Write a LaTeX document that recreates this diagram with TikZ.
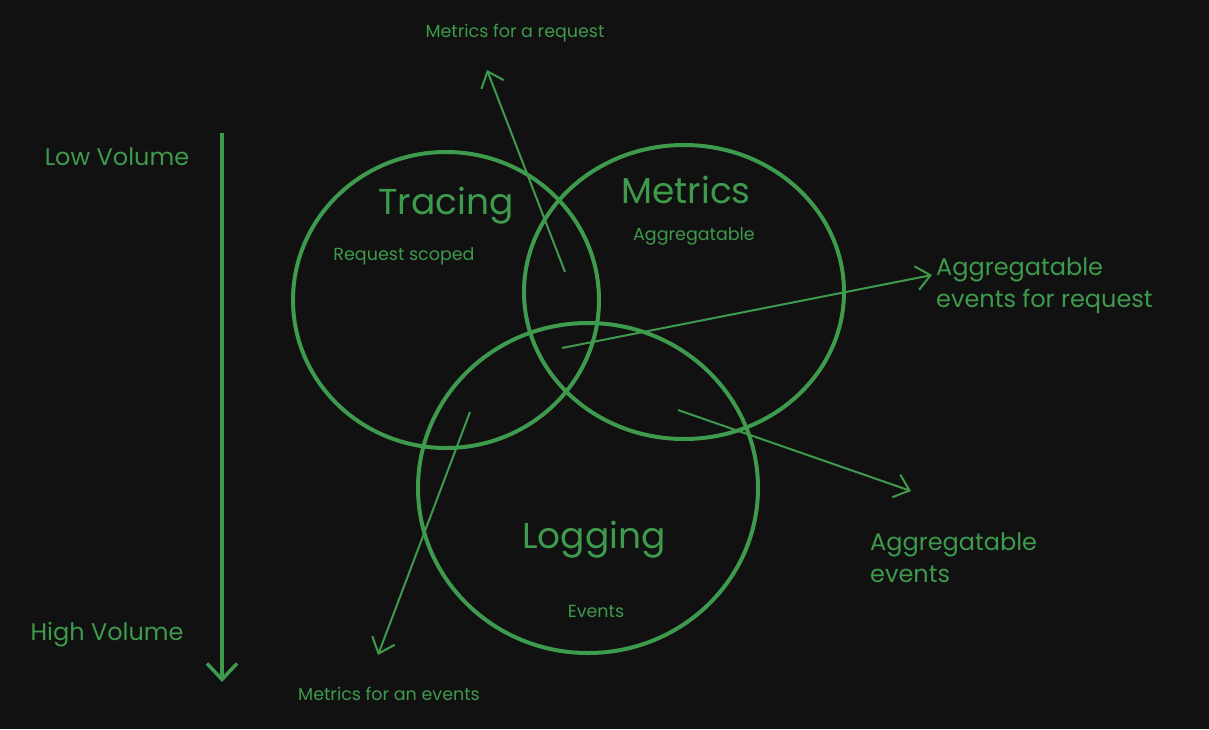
\documentclass[tikz,border=0pt]{standalone}
\usepackage{fontspec}
\setmainfont{Poppins}
\usetikzlibrary{arrows.meta}
\definecolor{gr}{HTML}{3E9A4C}
\definecolor{bg}{HTML}{111111}
\begin{document}
\begin{tikzpicture}[x=1pt,y=-1pt,
  circ/.style={draw=gr,line width=4pt},
  arr/.style={draw=gr,line width=2pt,-{Straight Barb[length=14pt,width=24pt,line width=2pt]}},
  big/.style={text=gr,font=\fontsize{36}{38}\selectfont,inner sep=0},
  sub/.style={text=gr,font=\fontsize{17.5}{20}\selectfont,inner sep=0},
  lab/.style={text=gr,font=\fontsize{24}{32}\selectfont,inner sep=0,align=left}]
\fill[bg] (0,0) rectangle (1209,729);
\useasboundingbox (0,0) rectangle (1209,729);
\draw[circ] (446,300) ellipse [x radius=153, y radius=148];
\draw[circ] (684,292) ellipse [x radius=160, y radius=147];
\draw[circ] (588,488) ellipse [x radius=170, y radius=165];
\node[big] (t) at (446,206) {Tracing};
\node[sub] (ts) at (404,256) {Request scoped};
\node[big] (m) at (686,190) {Metrics};
\node[sub] (ms) at (694,236) {Aggregatable};
\node[big] (l) at (594,540) {Logging};
\node[sub] (ls) at (596,611) {Events};
\coordinate (a1s) at (565,272); \coordinate (a1e) at (487,70);
\coordinate (a2s) at (562,348); \coordinate (a2e) at (932,275);
\coordinate (a3s) at (678,410); \coordinate (a3e) at (911,491);
\coordinate (a4s) at (470,412); \coordinate (a4e) at (378,655);
\coordinate (vs) at (222,133); \coordinate (ve) at (222,682);
\draw[arr] (a1s) -- (a1e);
\draw[arr] (a2s) -- (a2e);
\draw[arr] (a3s) -- (a3e);
\draw[arr] (a4s) -- (a4e);
\draw[draw=gr,line width=4.5pt,-{Straight Barb[length=16pt,width=30pt,line width=3.5pt]}] (vs) -- (ve);
\node[sub] (l1) at (515,33) {Metrics for a request};
\node[lab,anchor=west] (l2) at (936,286) {Aggregatable\\events for request};
\node[lab,anchor=west] (l3) at (870,558) {Aggregatable\\events};
\node[sub] (l4) at (389,694) {Metrics for an events};
\node[lab] (lo) at (117,157) {Low Volume};
\node[lab] (hi) at (107,635) {High Volume};
\end{tikzpicture}
\end{document}
